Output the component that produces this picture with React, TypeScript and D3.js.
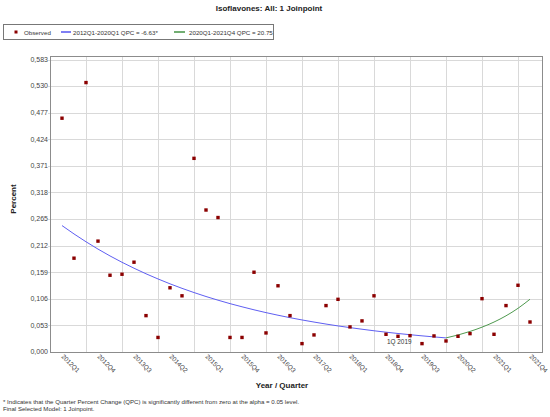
import { useEffect, useRef } from "react";
import * as d3 from "d3";

const quarters = [
  "2012Q1", "2012Q2", "2012Q3", "2012Q4",
  "2013Q1", "2013Q2", "2013Q3", "2013Q4",
  "2014Q1", "2014Q2", "2014Q3", "2014Q4",
  "2015Q1", "2015Q2", "2015Q3", "2015Q4",
  "2016Q1", "2016Q2", "2016Q3", "2016Q4",
  "2017Q1", "2017Q2", "2017Q3", "2017Q4",
  "2018Q1", "2018Q2", "2018Q3", "2018Q4",
  "2019Q1", "2019Q2", "2019Q3", "2019Q4",
  "2020Q1", "2020Q2", "2020Q3", "2020Q4",
  "2021Q1", "2021Q2", "2021Q3", "2021Q4",
];

// observed percent per quarter
const observed = [
  0.466, 0.187, 0.537, 0.221,
  0.153, 0.155, 0.179, 0.0725,
  0.029, 0.128, 0.112, 0.386,
  0.283, 0.268, 0.029, 0.029,
  0.159, 0.038, 0.132, 0.0725,
  0.0167, 0.034, 0.0925, 0.105,
  0.05, 0.062, 0.112, 0.0353,
  0.0313, 0.0326, 0.0167, 0.032,
  0.022, 0.0313, 0.0366, 0.1063,
  0.0353, 0.0925, 0.133, 0.0598,
];

// modelled segment 1 (2012Q1-2020Q1), one value per quarter
const fitBlue = [
  0.252, 0.2353, 0.2197, 0.2051, 0.1915, 0.1788, 0.167, 0.1559,
  0.1456, 0.1359, 0.1269, 0.1185, 0.1106, 0.1033, 0.0964, 0.0901,
  0.0841, 0.0785, 0.0733, 0.0684, 0.0639, 0.0597, 0.0557, 0.052,
  0.0486, 0.0454, 0.0423, 0.0395, 0.0369, 0.0345, 0.0322, 0.0301,
  0.0281,
];

// modelled segment 2 (2020Q1-2021Q4)
const fitGreen = [0.0281, 0.0339, 0.041, 0.0495, 0.0597, 0.0721, 0.0871, 0.1052];

const yTicks = [0, 0.053, 0.106, 0.159, 0.212, 0.265, 0.318, 0.371, 0.424, 0.477, 0.53, 0.583];
const xTickLabels = [
  "2012Q1", "2012Q4", "2013Q3", "2014Q2", "2015Q1", "2015Q4", "2016Q3",
  "2017Q2", "2018Q1", "2018Q4", "2019Q3", "2020Q2", "2021Q1", "2021Q4",
];
const xGridQuarters = [
  "2012Q3", "2013Q2", "2014Q1", "2014Q4", "2015Q3", "2016Q2", "2017Q1",
  "2017Q4", "2018Q3", "2019Q2", "2020Q1", "2020Q4", "2021Q3",
];

const blueColor = "#5f5ff2";
const greenColor = "#4f9a4f";
const pointColor = "#8b0000";
const FONT = "'Liberation Sans', Arial, sans-serif";

export default function App() {
  const svgRef = useRef<SVGSVGElement>(null);

  useEffect(() => {
    if (!svgRef.current) return;
    const width = 550;
    const height = 417;
    const plot = { left: 50, right: 542, top: 56, bottom: 352 };

    const svg = d3.select(svgRef.current).attr("width", width).attr("height", height);
    svg.selectAll("*").remove();
    svg.append("rect").attr("width", width).attr("height", height).attr("fill", "#ffffff");

    const idx = (q: string) => quarters.indexOf(q);
    const x = d3.scaleLinear().domain([-1, quarters.length]).range([plot.left, plot.right]);
    const y = d3.scaleLinear().domain([0, 0.583]).range([plot.bottom, 59.5]);

    // title
    svg
      .append("text")
      .attr("x", 269)
      .attr("y", 10.5)
      .attr("text-anchor", "middle")
      .style("font-family", FONT)
      .style("font-size", "8px")
      .style("font-weight", "700")
      .style("fill", "#222")
      .text("Isoflavones: All: 1 Joinpoint");

    // legend
    const legend = svg.append("g");
    legend
      .append("rect")
      .attr("x", 3.5)
      .attr("y", 24.5)
      .attr("width", 270)
      .attr("height", 15)
      .attr("fill", "#fff")
      .attr("stroke", "#777")
      .attr("stroke-width", 1);
    legend
      .append("rect")
      .attr("x", 14.5)
      .attr("y", 30.5)
      .attr("width", 3)
      .attr("height", 3)
      .attr("fill", pointColor);
    const legText = (lx: number, t: string) =>
      legend
        .append("text")
        .attr("x", lx)
        .attr("y", 34.5)
        .style("font-family", FONT)
        .style("font-size", "6.2px")
        .style("fill", "#333")
        .text(t);
    legText(24, "Observed");
    legend.append("line").attr("x1", 61).attr("x2", 71).attr("y1", 32).attr("y2", 32)
      .attr("stroke", blueColor).attr("stroke-width", 1.6);
    legText(73, "2012Q1-2020Q1 QPC = -6.63*");
    legend.append("line").attr("x1", 174).attr("x2", 185).attr("y1", 32).attr("y2", 32)
      .attr("stroke", greenColor).attr("stroke-width", 1.6);
    legText(189, "2020Q1-2021Q4 QPC = 20.75");

    const g = svg.append("g");

    // horizontal gridlines
    g.selectAll("line.hgrid")
      .data(yTicks.slice(1))
      .join("line")
      .attr("class", "hgrid")
      .attr("x1", plot.left - 2)
      .attr("x2", plot.right)
      .attr("y1", (d) => Math.round(y(d)) + 0.5)
      .attr("y2", (d) => Math.round(y(d)) + 0.5)
      .attr("stroke", "#d9d9d9");

    // vertical gridlines
    g.selectAll("line.vgrid")
      .data(xGridQuarters)
      .join("line")
      .attr("class", "vgrid")
      .attr("x1", (d) => Math.round(x(idx(d))) + 0.5)
      .attr("x2", (d) => Math.round(x(idx(d))) + 0.5)
      .attr("y1", plot.top)
      .attr("y2", plot.bottom)
      .attr("stroke", "#d9d9d9");

    // frame
    g.append("rect")
      .attr("x", plot.left + 0.5)
      .attr("y", plot.top + 0.5)
      .attr("width", plot.right - plot.left)
      .attr("height", plot.bottom - plot.top)
      .attr("fill", "none")
      .attr("stroke", "#8c8c8c")
      .attr("stroke-width", 1);

    // y tick labels
    g.selectAll("text.ytick")
      .data(yTicks)
      .join("text")
      .attr("class", "ytick")
      .attr("x", plot.left - 2)
      .attr("y", (d) => y(d) + 2.4)
      .attr("text-anchor", "end")
      .style("font-family", FONT)
      .style("font-size", "7px")
      .style("fill", "#444")
      .text((d) => d3.format(".3f")(d).replace(".", ","));

    // x tick labels, rotated
    g.selectAll("text.xtick")
      .data(xTickLabels)
      .join("text")
      .attr("class", "xtick")
      .attr("transform", (d) => `translate(${x(idx(d)) - 1},${plot.bottom + 5}) rotate(45)`)
      .attr("text-anchor", "start")
      .style("font-family", FONT)
      .style("font-size", "6.4px")
      .style("fill", "#444")
      .text((d) => d);

    // axis titles
    svg
      .append("text")
      .attr("x", 282)
      .attr("y", 388)
      .attr("text-anchor", "middle")
      .style("font-family", FONT)
      .style("font-size", "8px")
      .style("font-weight", "700")
      .style("fill", "#222")
      .text("Year / Quarter");
    svg
      .append("text")
      .attr("transform", "translate(16,199) rotate(-90)")
      .attr("text-anchor", "middle")
      .style("font-family", FONT)
      .style("font-size", "8px")
      .style("font-weight", "700")
      .style("fill", "#222")
      .text("Percent");

    // fitted segments
    const line = d3
      .line<number>()
      .x((_, i) => x(i))
      .y((d) => y(d))
      .curve(d3.curveMonotoneX);
    g.append("path")
      .datum(fitBlue)
      .attr("fill", "none")
      .attr("stroke", blueColor)
      .attr("stroke-width", 1)
      .attr("d", line);
    const offset = idx("2020Q1");
    g.append("path")
      .datum(fitGreen)
      .attr("fill", "none")
      .attr("stroke", greenColor)
      .attr("stroke-width", 1)
      .attr(
        "d",
        d3
          .line<number>()
          .x((_, i) => x(i + offset))
          .y((d) => y(d))
          .curve(d3.curveMonotoneX),
      );

    // observed points
    g.selectAll("rect.obs")
      .data(observed)
      .join("rect")
      .attr("class", "obs")
      .attr("x", (_, i) => x(i) - 1.7)
      .attr("y", (d) => y(d) - 1.7)
      .attr("width", 3.4)
      .attr("height", 3.4)
      .attr("fill", pointColor);

    // joinpoint annotation
    g.append("text")
      .attr("x", x(idx("2018Q4")) + 1)
      .attr("y", 344)
      .style("font-family", FONT)
      .style("font-size", "6.4px")
      .style("fill", "#333")
      .text("1Q 2019");

    // footnote
    const foot = [
      "* Indicates that the Quarter Percent Change (QPC) is significantly different from zero at the alpha = 0.05 level.",
      "Final Selected Model: 1 Joinpoint.",
    ];
    svg
      .selectAll("text.foot")
      .data(foot)
      .join("text")
      .attr("class", "foot")
      .attr("x", 3)
      .attr("y", (_, i) => 403.5 + i * 7.5)
      .style("font-family", FONT)
      .style("font-size", "6.1px")
      .style("fill", "#333")
      .text((d) => d);
  }, []);

  return (
    <svg
      ref={svgRef}
      style={{ position: "absolute", left: 0, top: 0, display: "block" }}
      role="img"
      aria-label="Isoflavones joinpoint chart"
    />
  );
}
